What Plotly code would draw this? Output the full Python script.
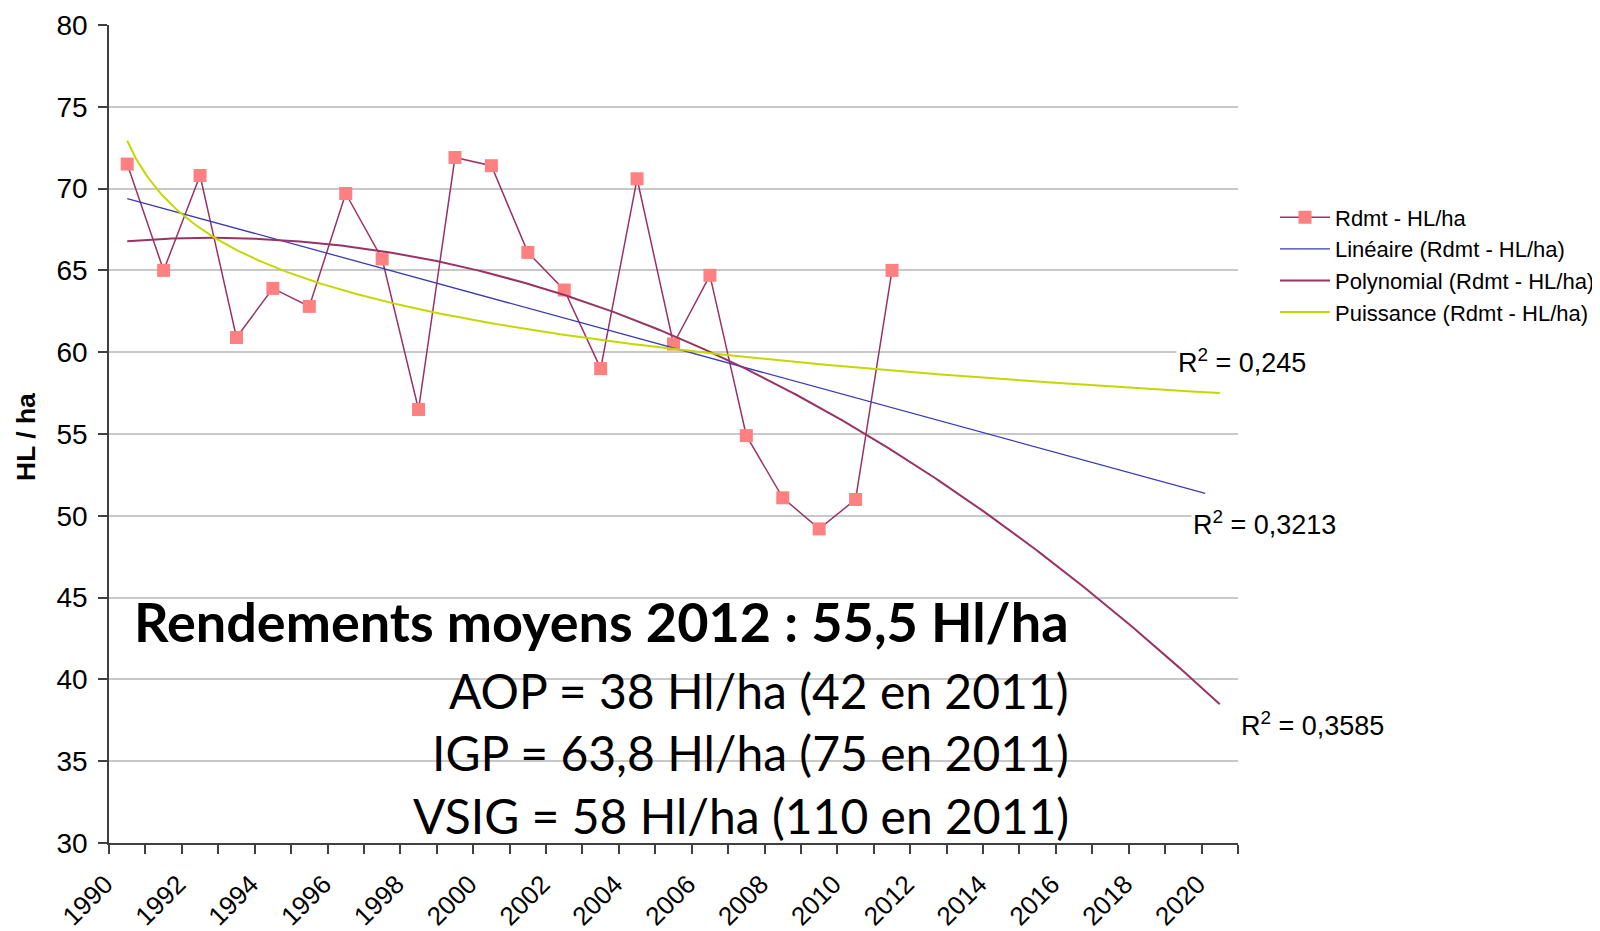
import numpy as np
import plotly.graph_objects as go

# ---------------- data ----------------
years = list(range(1990, 2012))
yields_hl_ha = [71.5, 65.0, 70.8, 60.9, 63.9, 62.8, 69.7, 65.7, 56.5, 71.9, 71.4,
                66.1, 63.8, 59.0, 70.6, 60.5, 64.7, 54.9, 51.1, 49.2, 51.0, 65.0]
tick_years = list(range(1990, 2021, 2))
y_ticks = list(range(30, 81, 5))
series_name = "Rdmt - HL/ha"
trend_names = ["Linéaire (Rdmt - HL/ha)", "Polynomial (Rdmt - HL/ha)", "Puissance (Rdmt - HL/ha)"]
r2_linear = "0,3213"
r2_poly = "0,3585"
r2_power = "0,245"
summary_title = "Rendements moyens 2012 : 55,5 Hl/ha"
summary_lines = ["AOP = 38 Hl/ha (42 en 2011)",
                 "IGP = 63,8 Hl/ha (75 en 2011)",
                 "VSIG = 58 Hl/ha (110 en 2011)"]
forecast_end_year = 2020
linear_end_year = 2019.6

# ---------------- trendlines (fitted on the data, like Excel) ----------------
y = np.array(yields_hl_ha)
t = np.arange(1, len(y) + 1)
first_year = years[0]
lin_c = np.polyfit(t, y, 1)
poly_c = np.polyfit(t, y, 2)
pw_c = np.polyfit(np.log(t), np.log(y), 1)

t_end = forecast_end_year - first_year + 1
t_lin_end = linear_end_year - first_year + 1
t_dense = np.linspace(1, t_end, 400)
t_lin = np.array([1, t_lin_end])
x_dense = t_dense + first_year - 1
x_lin = t_lin + first_year - 1

lin_vals = np.polyval(lin_c, t_lin)
poly_vals = np.polyval(poly_c, t_dense)
pw_vals = np.exp(pw_c[1]) * t_dense ** pw_c[0]

AX_FONT = "Liberation Sans, Arial, sans-serif"
TXT_FONT = "Lato, 'Open Sans', sans-serif"

fig = go.Figure()
fig.add_trace(go.Scatter(
    x=years, y=yields_hl_ha, name=series_name, mode="lines+markers",
    line=dict(color="#993366", width=1.5),
    marker=dict(symbol="square", size=13, color="#FF8080", line=dict(width=0)),
))
fig.add_trace(go.Scatter(x=x_lin, y=lin_vals, name=trend_names[0], mode="lines",
                         line=dict(color="#3B3BB5", width=1.3)))
fig.add_trace(go.Scatter(x=x_dense, y=poly_vals, name=trend_names[1], mode="lines",
                         line=dict(color="#993366", width=2)))
fig.add_trace(go.Scatter(x=x_dense, y=pw_vals, name=trend_names[2], mode="lines",
                         line=dict(color="#C4D800", width=2)))

# page has an 8px body margin: figure coords = page coords - 8
OFF = 8
FW, FH = 1592, 923
L, R, T, B = 101, 362, 17, 88
fig.update_layout(
    width=FW, height=FH,
    margin=dict(l=L, r=R, t=T, b=B, autoexpand=False),
    paper_bgcolor="white", plot_bgcolor="white",
    font=dict(family=AX_FONT, color="black"),
    showlegend=True,
    legend=dict(xref="container", yref="container",
                x=(1275 - OFF) / FW, y=1 - (196.5 - OFF) / FH,
                xanchor="left", yanchor="top", itemwidth=50,
                font=dict(family=AX_FONT, size=22, color="black"),
                bgcolor="rgba(0,0,0,0)"),
    xaxis=dict(
        range=[1989.5, 2020.5], tickmode="array", tickvals=tick_years,
        ticktext=[str(v) for v in tick_years], tickangle=-45,
        ticks="", showgrid=False, zeroline=False,
        showline=True, linecolor="#404040", linewidth=1.5,
        tickfont=dict(size=26, family=AX_FONT, color="black"),
        ticklabelshift=-22, ticklabelstandoff=14,
        minor=dict(tickmode="array", tickvals=[v + 0.5 for v in range(1989, 2021)],
                   ticks="outside", ticklen=9, tickcolor="#404040", tickwidth=1.5,
                   showgrid=False),
    ),
    yaxis=dict(
        range=[30, 80], tickmode="array", tickvals=y_ticks,
        ticks="outside", ticklen=9, tickcolor="#404040", tickwidth=1.5,
        showline=True, linecolor="#404040", linewidth=1.5,
        showgrid=True, gridcolor="#C8C8C8", gridwidth=1.5, zeroline=False,
        tickfont=dict(size=28, family=AX_FONT, color="black"),
        ticklabelstandoff=5,
    ),
)

W_plot = FW - L - R
H_plot = FH - T - B

def px(xpage):
    return (xpage - OFF - L) / W_plot

def py(ypage):
    return (FH - B - (ypage - OFF)) / H_plot

# y-axis title
fig.add_annotation(text="<b>HL / ha</b>", textangle=-90, x=px(26), y=py(437),
                   xref="paper", yref="paper", xanchor="center", yanchor="middle",
                   showarrow=False,
                   font=dict(size=26.5, family=AX_FONT, color="black"))

# R² labels
for txt, xl, yc in [(r2_power, 1176, 361), (r2_linear, 1191, 523), (r2_poly, 1239, 724)]:
    fig.add_annotation(text="R<sup>2</sup> = " + txt, x=px(xl), y=py(yc),
                       xref="paper", yref="paper", xanchor="left", yanchor="middle",
                       showarrow=False, bgcolor="white",
                       font=dict(size=27, family=AX_FONT, color="black"))

# summary texts
fig.add_annotation(text="<b>" + summary_title + "</b>", x=px(1071), y=py(621),
                   xref="paper", yref="paper", xanchor="right", yanchor="middle",
                   showarrow=False, font=dict(size=54, family=TXT_FONT, color="black"))
for line, yc in zip(summary_lines, [690, 752, 815]):
    fig.add_annotation(text=line, x=px(1071), y=py(yc),
                       xref="paper", yref="paper", xanchor="right", yanchor="middle",
                       showarrow=False, font=dict(size=48, family=TXT_FONT, color="black"))

fig.write_html("out.html")
